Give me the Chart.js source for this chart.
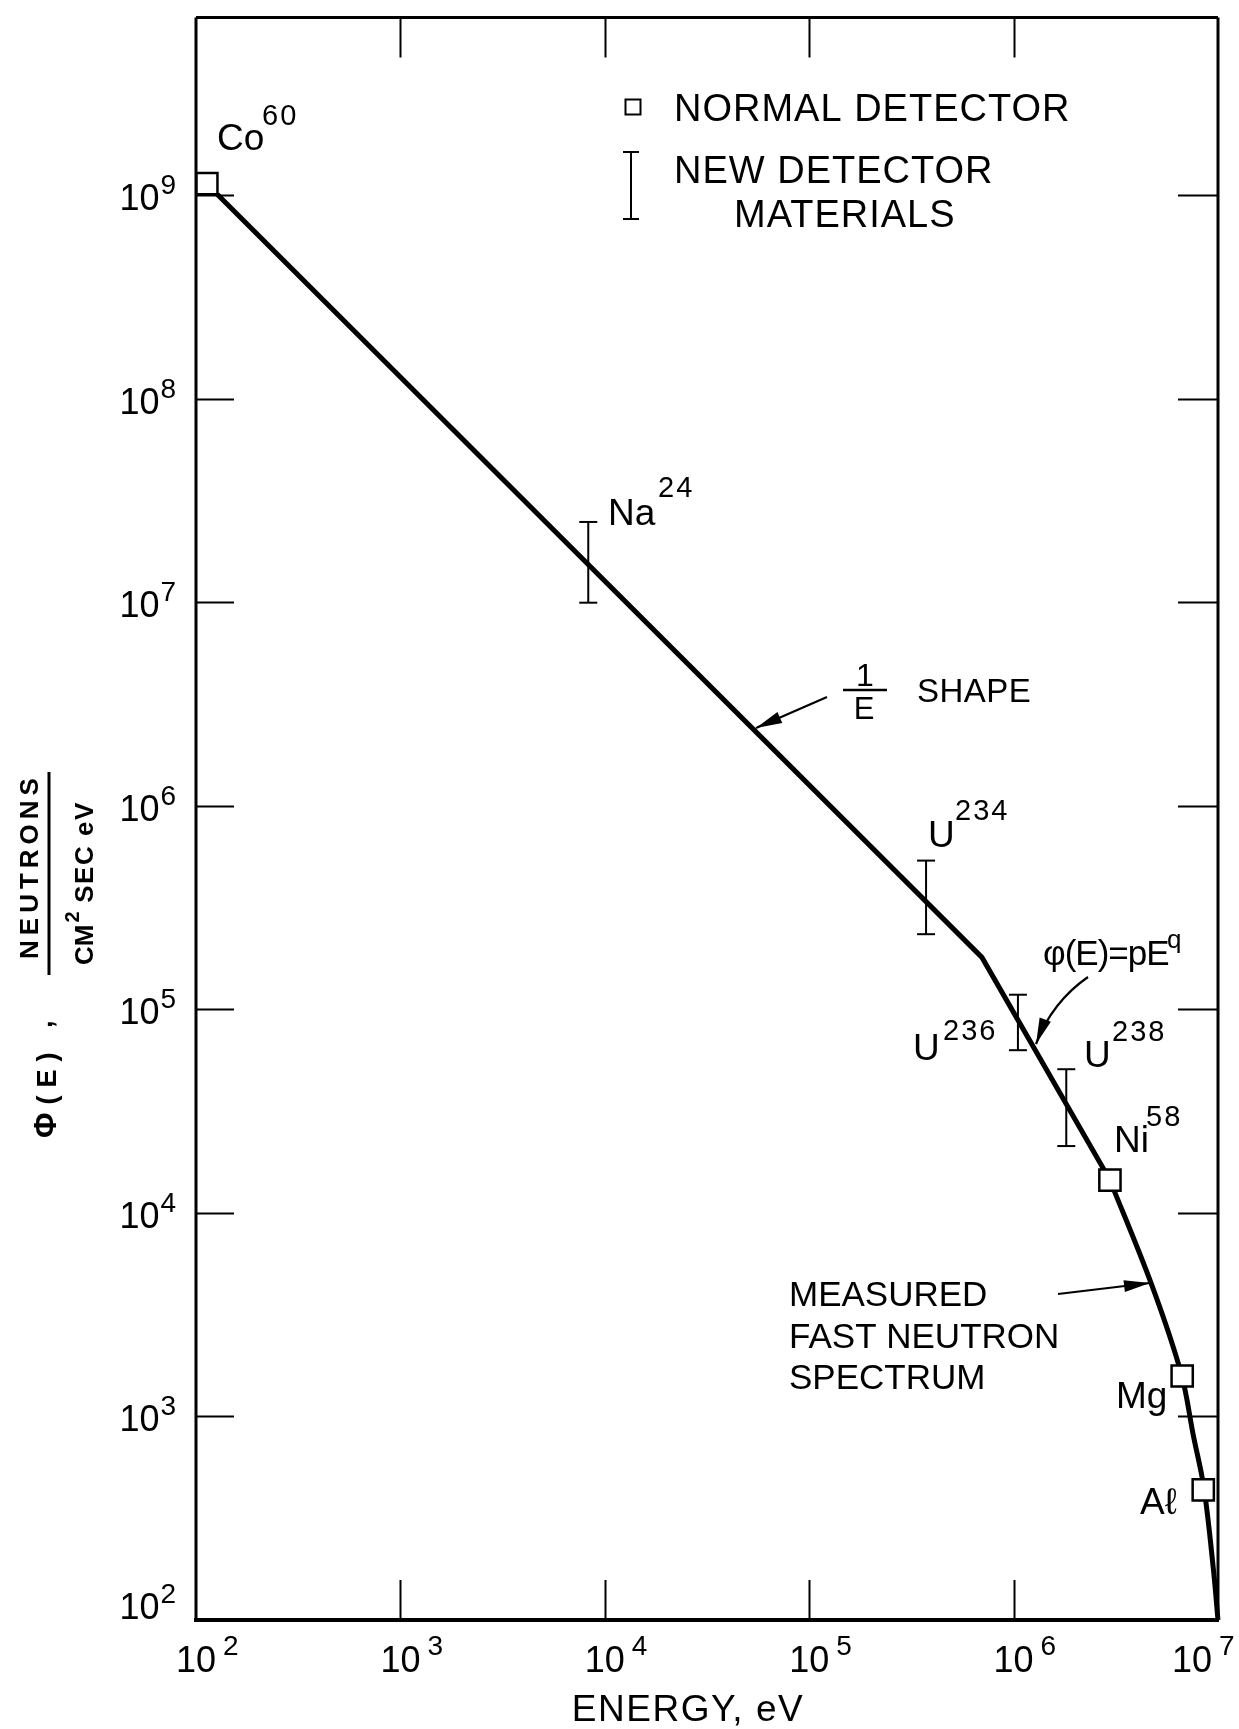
<!DOCTYPE html>
<html>
<head>
<meta charset="utf-8">
<script src="https://cdn.jsdelivr.net/npm/chart.js@4.4.0/dist/chart.umd.min.js"></script>
<style>
  html, body { margin: 0; padding: 0; background: #fff; }
  #contenedor { width: 1239px; height: 1729px; position: relative; }
</style>
</head>
<body>
<div id="contenedor"><canvas id="grafica"></canvas></div>
<script>
// Datos (energía en eV, flujo en neutrones/cm2 s eV)

// tramo recto: forma 1/E y luego pE^q hasta Ni58
const energiaRecta = [127, 7.0e5, 2.96e6];
const flujoRecta = [1.01e9, 1.80e5, 1.45e4];

// espectro medido de neutrones rápidos
const energiaMedido = [2.96e6, 4.75e6, 6.62e6, 7.57e6, 8.53e6, 9.48e6, 1.0e7];
const flujoMedido = [1.45e4, 4.40e3, 1.61e3, 809, 447, 180, 100];

// detectores normales (cuadros)
const normalesNombre = ["Co60", "Ni58", "Mg", "Al"];
const normalesEnergia = [113, 2.96e6, 6.68e6, 8.47e6];
const normalesFlujo = [1.14e9, 1.45e4, 1.58e3, 436];

// materiales nuevos (barras)
const barrasNombre = ["Na24", "U234", "U236", "U238"];
const barrasEnergia = [8.3e3, 3.73e5, 1.05e6, 1.81e6];
const barrasMin = [9.95e6, 2.34e5, 6.3e4, 2.13e4];
const barrasMax = [2.48e7, 5.38e5, 1.18e5, 5.08e4];

// marcas de los ejes
const ticksEnergia = [1e2, 1e3, 1e4, 1e5, 1e6, 1e7];
const expEnergia = ["2", "3", "4", "5", "6", "7"];
const ticksFlujo = [1e2, 1e3, 1e4, 1e5, 1e6, 1e7, 1e8, 1e9];
const expFlujo = ["2", "3", "4", "5", "6", "7", "8", "9"];

const FUENTE = '"Liberation Sans", Arial, sans-serif';
const NEGRO = "#000";

// Función para escribir texto y devolver su ancho
function texto(ctx, str, x, y, size, opts = {}) {
  ctx.font = `${opts.weight || "normal"} ${size}px ${FUENTE}`;
  ctx.textAlign = opts.align || "left";
  ctx.textBaseline = "alphabetic";
  ctx.letterSpacing = (opts.spacing || 0) + "px";
  ctx.fillStyle = NEGRO;
  ctx.fillText(str, x, y);
  const w = ctx.measureText(str).width;
  ctx.letterSpacing = "0px";
  return w;
}

// nombre con superíndice (Co60, Na24, ...)
function isotopo(ctx, base, sup, x, y, xs, ys) {
  texto(ctx, base, x, y, 37);
  if (sup) texto(ctx, sup, xs, ys, 29, { spacing: 2 });
}

// flecha con punta rellena (recta o curva con punto de control)
function flecha(ctx, x1, y1, x2, y2, cx, cy) {
  ctx.save();
  ctx.strokeStyle = NEGRO;
  ctx.fillStyle = NEGRO;
  ctx.lineWidth = 2.2;
  ctx.beginPath();
  ctx.moveTo(x1, y1);
  let ang;
  if (cx !== undefined) {
    ctx.quadraticCurveTo(cx, cy, x2, y2);
    ang = Math.atan2(y2 - cy, x2 - cx);
  } else {
    ctx.lineTo(x2, y2);
    ang = Math.atan2(y2 - y1, x2 - x1);
  }
  ctx.stroke();
  const L = 26, W = 6;
  ctx.beginPath();
  ctx.moveTo(x2, y2);
  ctx.lineTo(x2 - L * Math.cos(ang) + W * Math.sin(ang), y2 - L * Math.sin(ang) - W * Math.cos(ang));
  ctx.lineTo(x2 - L * Math.cos(ang) - W * Math.sin(ang), y2 - L * Math.sin(ang) + W * Math.cos(ang));
  ctx.closePath();
  ctx.fill();
  ctx.restore();
}

// Plugin para dibujar marco, marcas interiores, etiquetas y anotaciones
const marcoPlugin = {
  id: "marco",
  afterDraw(chart) {
    const ctx = chart.ctx;
    const a = chart.chartArea;
    const sx = chart.scales.x;
    const sy = chart.scales.y;
    ctx.save();
    ctx.strokeStyle = NEGRO;

    // marcas interiores
    ctx.lineWidth = 2;
    ctx.beginPath();
    ticksEnergia.forEach((v) => {
      const px = Math.round(sx.getPixelForValue(v)) + 0.5;
      if (px < a.left + 5 || px > a.right - 5) return;
      ctx.moveTo(px, a.bottom); ctx.lineTo(px, a.bottom - 40);
      ctx.moveTo(px, a.top); ctx.lineTo(px, a.top + 40);
    });
    ticksFlujo.forEach((v) => {
      const py = Math.round(sy.getPixelForValue(v)) + 0.5;
      if (py > a.bottom - 5) return;
      ctx.moveTo(a.left, py); ctx.lineTo(a.left + 38, py);
      ctx.moveTo(a.right, py); ctx.lineTo(a.right - 40, py);
    });
    ctx.stroke();

    // marco
    ctx.lineWidth = 3;
    ctx.beginPath();
    ctx.moveTo(a.left, a.top); ctx.lineTo(a.right, a.top);
    ctx.moveTo(a.left, a.top); ctx.lineTo(a.left, a.bottom);
    ctx.moveTo(a.right, a.top); ctx.lineTo(a.right, a.bottom);
    ctx.stroke();
    ctx.lineWidth = 4;
    ctx.beginPath();
    ctx.moveTo(a.left - 2, a.bottom); ctx.lineTo(a.right + 1, a.bottom);
    ctx.stroke();

    // etiquetas eje X
    ticksEnergia.forEach((v, i) => {
      let px = sx.getPixelForValue(v);
      if (i === ticksEnergia.length - 1) px -= 26;
      const w = texto(ctx, "10", px, 1672, 36, { align: "center" });
      texto(ctx, expEnergia[i], px + w / 2 + 7, 1655, 28);
    });

    // etiquetas eje Y
    ticksFlujo.forEach((v, i) => {
      const py = sy.getPixelForValue(v);
      const base = i === 0 ? py - 1 : py + 15;
      const wExp = texto(ctx, expFlujo[i], a.left - 20, base - 16, 28, { align: "right" });
      texto(ctx, "10", a.left - 20 - wExp - 1, base, 36, { align: "right" });
    });

    // título eje X
    texto(ctx, "ENERGY, eV", 688, 1721, 37, { align: "center", spacing: 1.5 });

    // título eje Y (girado)
    ctx.save();
    ctx.translate(56, 1138);
    ctx.rotate(-Math.PI / 2);
    let u = texto(ctx, "Φ", 0, 0, 31, { weight: "bold" });
    u += 8;
    texto(ctx, "(E)", u, 0, 27, { weight: "bold", spacing: 8 });
    texto(ctx, ",", 110, -4, 27, { weight: "bold" });
    ctx.restore();

    ctx.save();
    ctx.translate(38, 866);
    ctx.rotate(-Math.PI / 2);
    texto(ctx, "NEUTRONS", 0, 0, 26, { weight: "bold", align: "center", spacing: 5 });
    ctx.restore();

    ctx.lineWidth = 3;
    ctx.beginPath();
    ctx.moveTo(49, 975); ctx.lineTo(49, 772);
    ctx.stroke();

    ctx.save();
    ctx.translate(93, 965);
    ctx.rotate(-Math.PI / 2);
    let v = texto(ctx, "CM", 0, 0, 26, { weight: "bold" });
    v += texto(ctx, "2", v + 2, -14, 20, { weight: "bold" }) + 2;
    texto(ctx, " SEC eV", v, 0, 26, { weight: "bold", spacing: 1.5 });
    ctx.restore();

    // leyenda
    ctx.lineWidth = 2;
    ctx.strokeRect(625.5, 99.5, 15, 15);
    ctx.beginPath();
    ctx.moveTo(631, 152); ctx.lineTo(631, 219);
    ctx.moveTo(623, 152); ctx.lineTo(639, 152);
    ctx.moveTo(623, 219); ctx.lineTo(639, 219);
    ctx.stroke();
    texto(ctx, "NORMAL DETECTOR", 674, 121, 38, { spacing: 1 });
    texto(ctx, "NEW DETECTOR", 674, 183, 38, { spacing: 1 });
    texto(ctx, "MATERIALS", 734, 227, 38, { spacing: 1 });

    // nombres de isótopos
    isotopo(ctx, "Co", "60", 217, 150, 262, 125);
    isotopo(ctx, "Na", "24", 608, 525, 658, 497);
    isotopo(ctx, "U", "234", 928, 847, 955, 820);
    isotopo(ctx, "U", "236", 913, 1060, 943, 1040);
    isotopo(ctx, "U", "238", 1084, 1067, 1112, 1041);
    isotopo(ctx, "Ni", "58", 1114, 1152, 1146, 1126);
    isotopo(ctx, "Mg", "", 1116, 1408);
    isotopo(ctx, "Aℓ", "", 1140, 1514);

    // 1/E SHAPE
    texto(ctx, "1", 865, 686, 32, { align: "center" });
    ctx.lineWidth = 2.5;
    ctx.beginPath();
    ctx.moveTo(843, 690); ctx.lineTo(887, 690);
    ctx.stroke();
    texto(ctx, "E", 864, 719, 31, { align: "center" });
    texto(ctx, "SHAPE", 917, 702, 33, { spacing: 0.5 });
    flecha(ctx, 827, 697, 756, 728);

    // φ(E)=pE^q
    texto(ctx, "φ(E)=pE", 1043, 965, 35, { spacing: -1 });
    texto(ctx, "q", 1167, 948, 26);
    flecha(ctx, 1088, 977, 1036, 1044, 1052, 1002);

    // espectro medido
    texto(ctx, "MEASURED", 789, 1306, 35);
    texto(ctx, "FAST NEUTRON", 789, 1348, 35);
    texto(ctx, "SPECTRUM", 789, 1389, 35);
    flecha(ctx, 1058, 1294, 1150, 1283);

    ctx.restore();
  },
};

const puntos = (xs, ys) => xs.map((x, i) => ({ x, y: ys[i] }));

const datasets = [
  {
    label: "Normal detector",
    type: "scatter",
    data: puntos(normalesEnergia, normalesFlujo),
    pointStyle: "rect",
    pointRadius: 15,
    pointBackgroundColor: "#fff",
    pointBorderColor: NEGRO,
    pointBorderWidth: 2.5,
    order: 0,
    clip: false,
  },
  {
    label: "1/E y pE^q",
    type: "line",
    data: puntos(energiaRecta, flujoRecta),
    borderColor: NEGRO,
    borderWidth: 5,
    pointRadius: 0,
    tension: 0,
    fill: false,
    order: 1,
    clip: false,
  },
  {
    label: "Measured fast neutron spectrum",
    type: "line",
    data: puntos(energiaMedido, flujoMedido),
    borderColor: NEGRO,
    borderWidth: 5,
    pointRadius: 0,
    tension: 0.35,
    fill: false,
    order: 1,
    clip: false,
  },
];

// una serie por cada barra de material nuevo
barrasEnergia.forEach((x, i) => {
  datasets.push({
    label: barrasNombre[i],
    type: "line",
    data: [{ x, y: barrasMin[i] }, { x, y: barrasMax[i] }],
    borderColor: NEGRO,
    borderWidth: 2,
    pointStyle: "line",
    pointRadius: 9,
    pointBorderColor: NEGRO,
    pointBorderWidth: 2,
    tension: 0,
    fill: false,
    order: 2,
    clip: false,
  });
});

new Chart(document.getElementById("grafica"), {
  type: "scatter",
  data: { datasets },
  options: {
    responsive: true,
    maintainAspectRatio: false,
    devicePixelRatio: 1,
    animation: false,
    events: [],
    layout: { padding: { left: 196, right: 21, top: 10, bottom: 109 } },
    scales: {
      x: { type: "logarithmic", min: 1e2, max: 1e7, display: false },
      y: { type: "logarithmic", min: 1e2, max: 7.46e9, display: false },
    },
    plugins: { legend: { display: false }, tooltip: { enabled: false } },
  },
  plugins: [marcoPlugin],
});
</script>
</body>
</html>
